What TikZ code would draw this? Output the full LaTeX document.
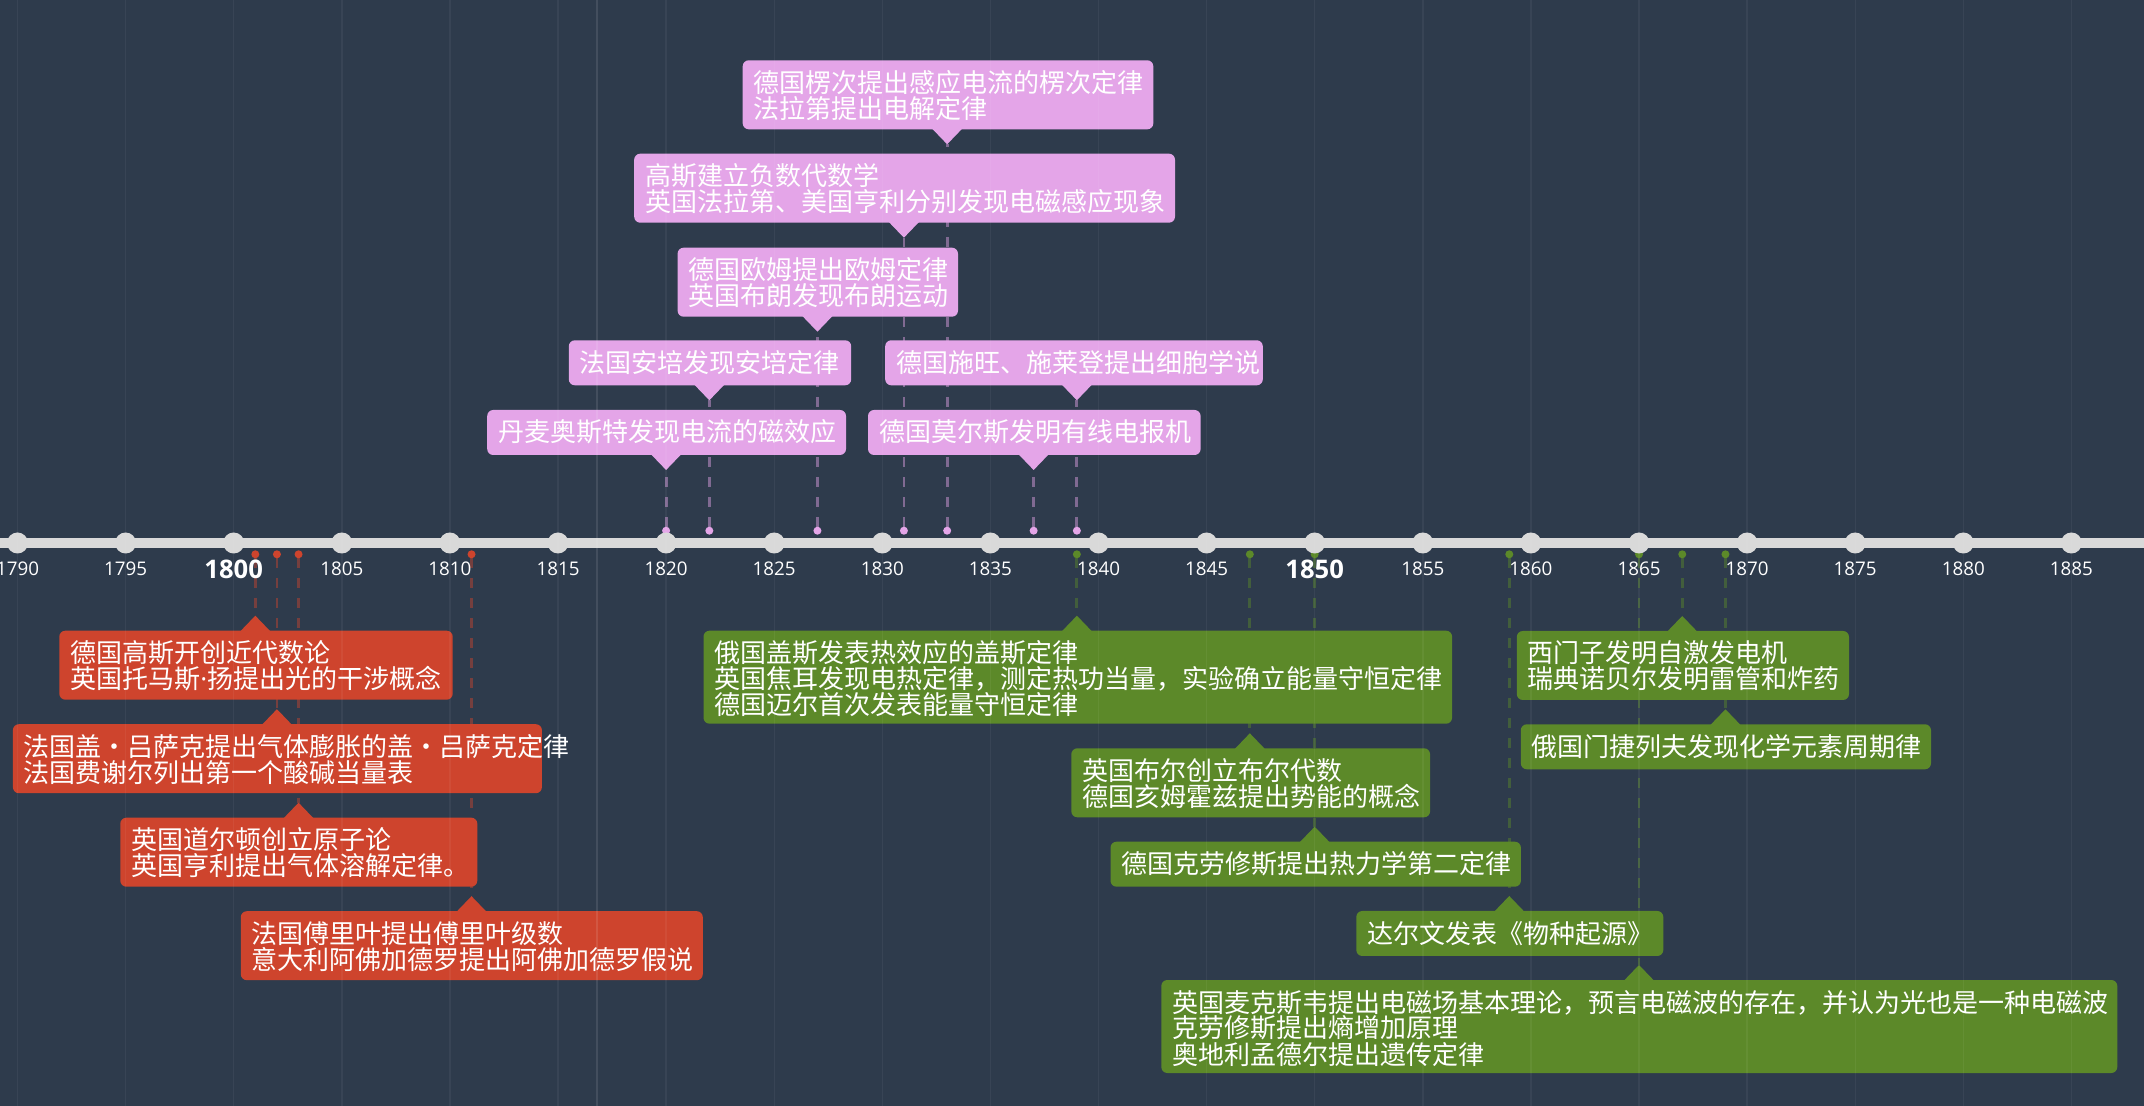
\documentclass[tikz,border=0pt]{standalone}
\usepackage{fontspec}
\newfontfamily\cjk{Noto Sans CJK SC}
\newfontfamily\yearfont{Open Sans}
\usetikzlibrary{calc}

\definecolor{bgc}{HTML}{2E3B4C}
\definecolor{axisc}{HTML}{D9D9D9}
\definecolor{redc}{HTML}{CE442D}
\definecolor{greenc}{HTML}{5C8929}
\definecolor{pinkc}{HTML}{E4A5E8}

\pgfdeclarelayer{bglayer}
\pgfdeclarelayer{dashlayer}
\pgfdeclarelayer{axislayer}
\pgfdeclarelayer{gridlayer}
\pgfsetlayers{bglayer,dashlayer,main,axislayer,gridlayer}

% narrow middle dot for transliterated names
\newcommand\nmdot{{\yearfont ·}}

\tikzset{
  evbox/.style={rounded corners=3pt, inner xsep=5.5pt, inner ysep=0pt, outer sep=0pt,
    align=left, text=white, font=\cjk\fontsize{13}{13}\selectfont, text height=16pt},
  one/.style={text depth=6.5pt},
  two/.style={text depth=18.5pt},
  three/.style={text depth=30.5pt},
  evdot/.style={circle, inner sep=0pt, outer sep=0pt, minimum size=4pt},
  evdash/.style={line width=1.4pt, dash pattern=on 5pt off 5pt, draw opacity=0.45},
  tickdot/.style={circle, fill=axisc, inner sep=0pt, outer sep=0pt, minimum size=10.5pt},
  yearlbl/.style={text=white, inner sep=0pt, font=\yearfont\fontsize{9.4}{9.4}\selectfont},
  bigyear/.style={text=white, inner sep=0pt, font=\yearfont\bfseries\fontsize{12.8}{12.8}\selectfont},
  gridline/.style={white, opacity=0.05, line width=0.7pt},
}

% event below the axis: name, year, left, top, lines, text width, colour, text
\newcommand\evbelow[8]{%
  \node[evdot,fill=#7] (#1dot) at ({17.5+(#2-1790)*21.62},554.3) {};
  \node[evbox,#5,text width=#6,fill=#7,anchor=north west] (#1) at (#3,#4) {#8};
  \coordinate (#1tip) at ($(#1.north -| #1dot)+(0,-15)$);
  \fill[#7] ($(#1tip)+(-15,15.6)$) -- (#1tip) -- ($(#1tip)+(15,15.6)$) -- cycle;
  \begin{pgfonlayer}{dashlayer}
    \draw[evdash,#7] (#1dot) -- (#1tip);
  \end{pgfonlayer}
}
% event above the axis: name, year, left, bottom, lines, text width, colour, text
\newcommand\evabove[8]{%
  \node[evdot,fill=#7] (#1dot) at ({17.5+(#2-1790)*21.62},530.7) {};
  \node[evbox,#5,text width=#6,fill=#7,anchor=south west] (#1) at (#3,#4) {#8};
  \coordinate (#1tip) at ($(#1.south -| #1dot)+(0,15)$);
  \fill[#7] ($(#1tip)+(-15,-15.6)$) -- (#1tip) -- ($(#1tip)+(15,-15.6)$) -- cycle;
  \begin{pgfonlayer}{dashlayer}
    \draw[evdash,#7] (#1dot) -- (#1tip);
  \end{pgfonlayer}
}

\begin{document}
\begin{tikzpicture}[x=0.5pt,y=-0.5pt]
\useasboundingbox (0,0) rectangle (2144,1106);
\begin{pgfonlayer}{bglayer}
  \fill[bgc] (0,0) rectangle (2144,1106);
\end{pgfonlayer}

% time axis, drawn over the event dots
\begin{pgfonlayer}{axislayer}
\draw[axisc, line width=5.35pt] (0,543) -- (2144,543);
\foreach \yr in {1790,1795,...,1885}{
  \node[tickdot] (t\yr) at ({17.5+(\yr-1790)*21.62},543) {};
  \pgfmathtruncatemacro\half{mod(\yr,50)}
  \ifnum\half=0
    \node[bigyear] (l\yr) at ({17.5+(\yr-1790)*21.62},569.2) {\yr};
  \else
    \node[yearlbl] (l\yr) at ({17.5+(\yr-1790)*21.62},568.4) {\yr};
  \fi
}
\end{pgfonlayer}

% events before 1815
\evbelow{r1}{1801}{59.3}{630.7}{two}{185.7pt}{redc}{德国高斯开创近代数论\\英国托马斯\nmdot 扬提出光的干涉概念}
\evbelow{r2}{1802}{12.9}{724.2}{two}{253.5pt}{redc}{法国盖·吕萨克提出气体膨胀的盖·吕萨克定律\\法国费谢尔列出第一个酸碱当量表}
\evbelow{r3}{1803}{120.3}{817.7}{two}{167.5pt}{redc}{英国道尔顿创立原子论\\英国亨利提出气体溶解定律。}
\evbelow{r4}{1811}{240.8}{911.2}{two}{220pt}{redc}{法国傅里叶提出傅里叶级数\\意大利阿佛加德罗提出阿佛加德罗假说}

% events 1820-1839 (above the axis)
\evabove{p1}{1820}{487.2}{455}{one}{168.4pt}{pinkc}{丹麦奥斯特发现电流的磁效应}
\evabove{p2}{1822}{568.8}{385.3}{one}{130.2pt}{pinkc}{法国安培发现安培定律}
\evabove{p3}{1827}{677.6}{316.7}{two}{129.2pt}{pinkc}{德国欧姆提出欧姆定律\\英国布朗发现布朗运动}
\evabove{p4}{1831}{634.2}{222.7}{two}{259.4pt}{pinkc}{高斯建立负数代数学\\英国法拉第、美国亨利分别发现电磁感应现象}
\evabove{p5}{1833}{742.7}{129.3}{two}{194.3pt}{pinkc}{德国楞次提出感应电流的楞次定律\\法拉第提出电解定律}
\evabove{p6}{1837}{868}{455}{one}{155.3pt}{pinkc}{德国莫尔斯发明有线电报机}
\evabove{p7}{1839}{885.2}{385.3}{one}{177.8pt}{pinkc}{德国施旺、施莱登提出细胞学说}

% events 1839-1869
\evbelow{g1}{1839}{703.5}{630.7}{three}{363.3pt}{greenc}{俄国盖斯发表热效应的盖斯定律\\英国焦耳发现电热定律，测定热功当量，实验确立能量守恒定律\\德国迈尔首次发表能量守恒定律}
\evbelow{g2}{1847}{1071.3}{748.3}{two}{168.4pt}{greenc}{英国布尔创立布尔代数\\德国亥姆霍兹提出势能的概念}
\evbelow{g3}{1850}{1110.5}{841.7}{one}{194.2pt}{greenc}{德国克劳修斯提出热力学第二定律}
\evbelow{g4}{1859}{1356.3}{911}{one}{142.5pt}{greenc}{达尔文发表《物种起源》}
\evbelow{g5}{1865}{1161.3}{980}{three}{467pt}{greenc}{英国麦克斯韦提出电磁场基本理论，预言电磁波的存在，并认为光也是一种电磁波\\克劳修斯提出熵增加原理\\奥地利孟德尔提出遗传定律}
\evbelow{g6}{1867}{1516.8}{631}{two}{155.1pt}{greenc}{西门子发明自激发电机\\瑞典诺贝尔发明雷管和炸药}
\evbelow{g7}{1869}{1520.8}{724.3}{one}{194.1pt}{greenc}{俄国门捷列夫发现化学元素周期律}

% faint year grid over everything
\begin{pgfonlayer}{gridlayer}
  \foreach \yr in {1790,1795,...,1885}
    \draw[gridline] ({17.5+(\yr-1790)*21.62},0) -- ++(0,1106);
  \draw[white, opacity=0.1, line width=1pt] (597,0) -- (597,1106);
\end{pgfonlayer}
\end{tikzpicture}
\end{document}
